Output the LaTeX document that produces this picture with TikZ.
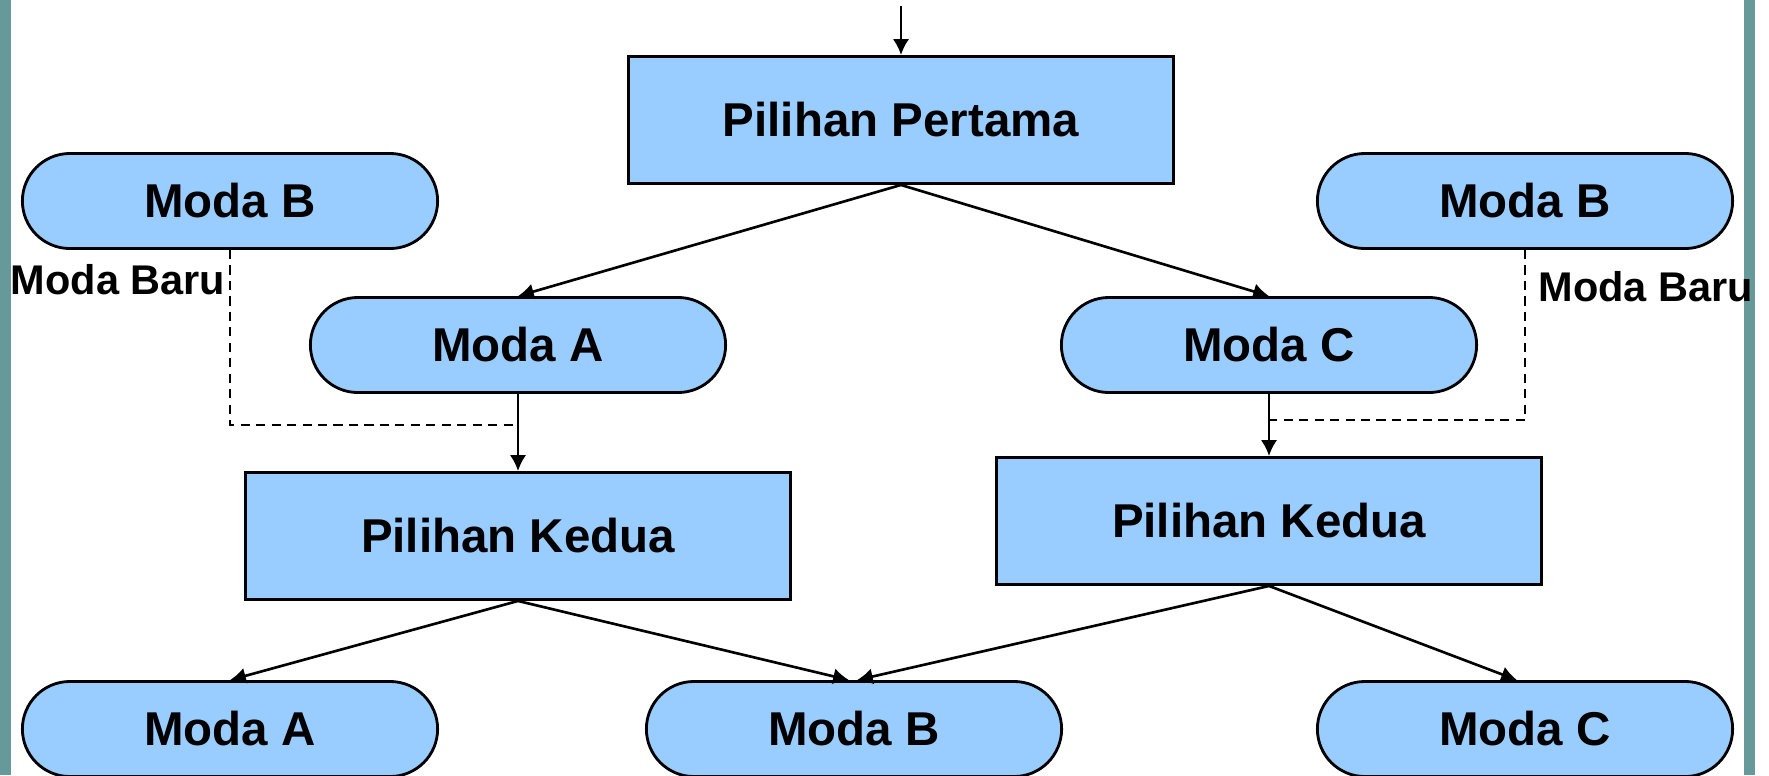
\documentclass[tikz,border=0pt]{standalone}
\usepackage{fontspec}
\setmainfont{Liberation Sans}
\usetikzlibrary{arrows.meta}
\definecolor{boxblue}{HTML}{99CCFF}
\definecolor{frameteal}{HTML}{669999}
\begin{document}
\begin{tikzpicture}[x=0.01cm, y=-0.01cm,
		modanode/.style={draw, line width=0.8pt, fill=boxblue, rounded corners=0.475cm, minimum width=4.15cm, minimum height=0.95cm, inner sep=0pt, font=\fontsize{13.5}{16}\bfseries\selectfont},
		pilihnode/.style={draw, line width=0.8pt, fill=boxblue, minimum width=5.44cm, minimum height=1.27cm, inner sep=0pt, font=\fontsize{13.5}{16}\bfseries\selectfont},
		barunode/.style={inner sep=0pt, font=\fontsize{11.8}{14}\bfseries\selectfont},
		flowarrow/.style={line width=0.75pt, -{Latex[length=4.5pt, width=4.6pt]}},
		baruline/.style={line width=0.75pt, dash pattern=on 2.6pt off 1.8pt}]
			\useasboundingbox (0,0) rectangle (1769,775);
			\clip (0,0) rectangle (1769,775);
			\fill[frameteal] (0,0) rectangle (11,775);
			\fill[frameteal] (1744,0) rectangle (1755,775);

			\node[pilihnode] at (901, 120) (pp) {Pilihan Pertama};
			\node[modanode] at (230, 201) (mbl) {Moda B};
			\node[modanode] at (1525, 201) (mbr) {Moda B};
			\node[modanode] at (518, 345) (ma) {Moda A};
			\node[modanode] at (1269, 345) (mc) {Moda C};
			\node[pilihnode] at (518, 536) (pk1) {Pilihan Kedua};
			\node[pilihnode] at (1269, 521) (pk2) {Pilihan Kedua};
			\node[modanode] at (230, 729) (ma2) {Moda A};
			\node[modanode] at (854, 729) (mb2) {Moda B};
			\node[modanode] at (1525, 729) (mc2) {Moda C};

			\node[barunode, anchor=east] at (226, 280) (barul) {Moda Baru};
			\node[barunode, anchor=west] at (1538, 287) (barur) {Moda Baru};

			\coordinate (start) at (901, 6);
			\coordinate (joinl) at (518, 425);
			\coordinate (joinr) at (1269, 420);

			\path
			(start) edge[flowarrow] (pp)
			(pp.south) edge[flowarrow] (ma.north)
			(pp.south) edge[flowarrow] (mc.north)
			(ma) edge[flowarrow] (pk1)
			(mc) edge[flowarrow] (pk2)
			(pk1.south) edge[flowarrow] (ma2.north)
			(pk1.south) edge[flowarrow] ([xshift=-0.05cm]mb2.north)
			(pk2.south) edge[flowarrow] ([xshift=0.03cm]mb2.north)
			(pk2.south) edge[flowarrow] ([xshift=-0.08cm]mc2.north);

			\draw[baruline] (mbl.south) |- (joinl);
			\draw[baruline] (mbr.south) |- (joinr);
		\end{tikzpicture}
\end{document}
